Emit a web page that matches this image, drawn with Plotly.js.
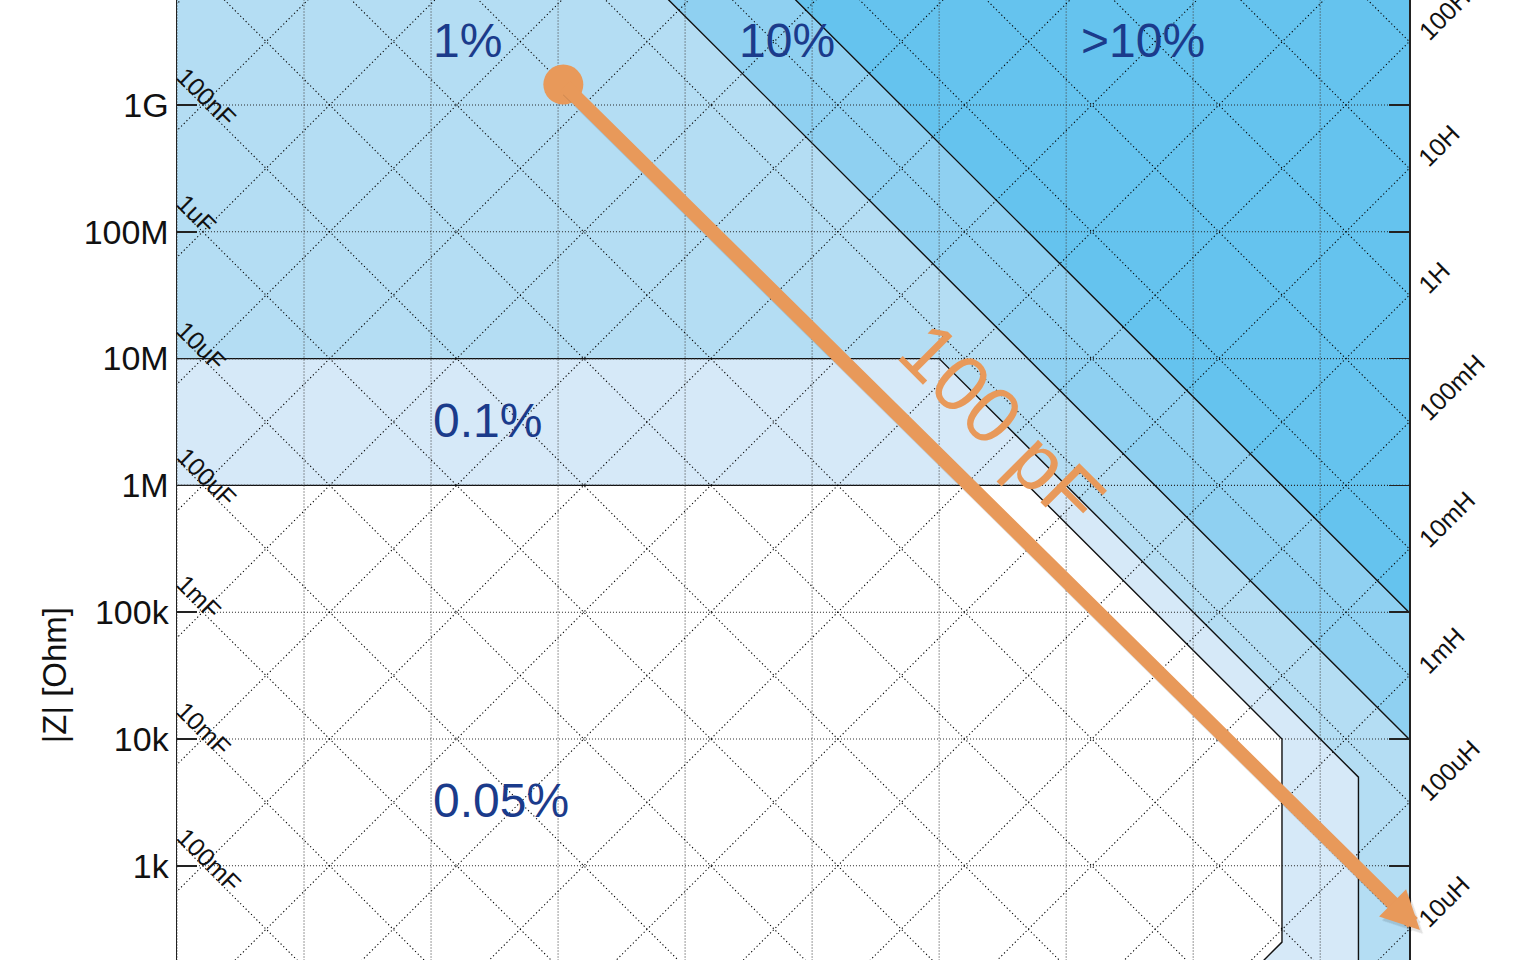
<!DOCTYPE html>
<html><head><meta charset="utf-8">
<script src="https://cdn.plot.ly/plotly-3.0.1.min.js"></script>
<style>html,body{margin:0;padding:0;background:#fff;overflow:hidden}#chart{width:1524px;height:960px}</style>
</head><body><div id="chart"></div>
<script>
// ---- axis extents and ticks (frequency in Hz, impedance in Ohm) ----
const freqMin = 1e-3;
const freqMax = 5e6;
const impMin = 180.7;
const impMax = 6.73e9;
const gridFreqs = [1e-3, 1e-2, 1e-1, 1, 10, 100, 1e3, 1e4, 1e5, 1e6];
const impTickVals = [1e3, 1e4, 1e5, 1e6, 1e7, 1e8, 1e9];
const impTickText = ['1k', '10k', '100k', '1M', '10M', '100M', '1G'];

// ---- constant-capacitance and constant-inductance reference lines ----
const capValues = [1, 1e-1, 1e-2, 1e-3, 1e-4, 1e-5, 1e-6, 1e-7, 1e-8, 1e-9, 1e-10, 1e-11, 1e-12, 1e-13, 1e-14, 1e-15, 1e-16, 1e-17];
const capLabelValues = [1e-1, 1e-2, 1e-3, 1e-4, 1e-5, 1e-6, 1e-7];
const capLabelText = ['100mF', '10mF', '1mF', '100uF', '10uF', '1uF', '100nF'];
const indValues = [1e-5, 1e-4, 1e-3, 1e-2, 1e-1, 1, 10, 100, 1e3, 1e4, 1e5, 1e6, 1e7, 1e8, 1e9, 1e10, 1e11, 1e12];
const indLabelValues = [1e-5, 1e-4, 1e-3, 1e-2, 1e-1, 1, 10, 100];
const indLabelText = ['10uH', '100uH', '1mH', '10mH', '100mH', '1H', '10H', '100H'];

// ---- accuracy region boundaries (polygons, Hz / Ohm) ----
const band10F = [1e-5, 5, 5e7, 5e7, 1e-5];
const band10Z = [1e11, 1e11, 1e4, 1, 1];
const band1F = [1e-5, 0.5, 5e7, 5e7, 1e-5];
const band1Z = [1e11, 1e11, 1e3, 1, 1];
const band01F = [1e-5, 1e3, 2e6, 2e6, 1e-5];
const band01Z = [1e7, 1e7, 5e3, 10, 10];
const band005F = [1e-5, 5e3, 5e5, 5e5, 5e4, 1e-5];
const band005Z = [1e6, 1e6, 1e4, 250, 25, 25];

// ---- region labels ----
const regionText = ['1%', '10%', '>10%', '0.1%', '0.05%'];
const regionF = [0.192, 63.4, 4.03e4, 0.276, 0.356];
const regionZ = [3.2e9, 3.2e9, 3.2e9, 3.22e6, 3.3e3];

// ---- 100 pF example arrow ----
const arrowF = [1.1, 6.1e6];
const arrowZ = [1.45e9, 312];
const arrowLabel = '100 pF';
const arrowLabelF = 3100;
const arrowLabelZ = 3.0e6;

const FONT = '"Liberation Sans", Arial, sans-serif';
const colors = {gt10: '#65c3ee', p10: '#8fd0f1', p1: '#b4ddf3', p01: '#d6e9f8', p005: '#ffffff', text: '#1b3b8b', orange: '#e8995a'};

const TWO_PI = 2 * Math.PI;
const lineF = [1e-5, 1e8];
function capLine(c) { return lineF.map(f => 1 / (TWO_PI * f * c)); }
function indLine(l) { return lineF.map(f => TWO_PI * f * l); }

function poly(fx, zy, fill) {
  return {x: fx.concat([fx[0]]), y: zy.concat([zy[0]]), type: 'scatter', mode: 'lines', fill: 'toself',
    fillcolor: fill, line: {color: '#111', width: 1.4}, hoverinfo: 'skip'};
}

const traces = [];
traces.push(poly(band10F, band10Z, colors.p10));
traces.push(poly(band1F, band1Z, colors.p1));
traces.push(poly(band01F, band01Z, colors.p01));
traces.push(poly(band005F, band005Z, colors.p005));

// vertical and horizontal dotted grid
let gx = [], gy = [];
gridFreqs.forEach(f => { gx.push(f, f, null); gy.push(10, 1e11, null); });
traces.push({x: gx, y: gy, type: 'scatter', mode: 'lines', line: {color: '#444', width: 1.1, dash: '1px,2px'}, hoverinfo: 'skip', connectgaps: false});
let hx = [], hy = [];
impTickVals.forEach(z => { hx.push(1e-5, 1e8, null); hy.push(z, z, null); });
traces.push({x: hx, y: hy, type: 'scatter', mode: 'lines', line: {color: '#222', width: 1.1, dash: '1px,2px'}, hoverinfo: 'skip', connectgaps: false});

// diagonal C / L lines
let dx = [], dy = [];
capValues.forEach(c => { const z = capLine(c); dx.push(lineF[0], lineF[1], null); dy.push(z[0], z[1], null); });
indValues.forEach(l => { const z = indLine(l); dx.push(lineF[0], lineF[1], null); dy.push(z[0], z[1], null); });
traces.push({x: dx, y: dy, type: 'scatter', mode: 'lines', line: {color: '#000', width: 1.1, dash: '1.2px,2.6px'}, hoverinfo: 'skip', connectgaps: false});

// arrow start dot
traces.push({x: [arrowF[0]], y: [arrowZ[0]], type: 'scatter', mode: 'markers', marker: {size: 40, color: colors.orange}, hoverinfo: 'skip', cliponaxis: false});

// text measure
const ctx = document.createElement('canvas').getContext('2d');
function textW(s, size) { ctx.font = size + 'px "Liberation Sans"'; return ctx.measureText(s).width; }
const S = Math.SQRT1_2;
const lg = Math.log10;

const annotations = [];
// region labels
regionText.forEach((t, i) => {
  annotations.push({x: lg(regionF[i]), y: lg(regionZ[i]), xref: 'x', yref: 'y', text: t, showarrow: false,
    font: {family: FONT, size: 48, color: colors.text}, xanchor: 'center', yanchor: 'middle'});
});
// capacitance labels at left edge
const labFs = 25;
const fLeft = freqMin * 1.0001;
capLabelValues.forEach((c, i) => {
  const w = textW(capLabelText[i], labFs);
  const a = w / 2 - 2, b = 8.5;
  annotations.push({x: lg(fLeft), y: lg(1 / (TWO_PI * fLeft * c)), xref: 'x', yref: 'y', text: capLabelText[i], showarrow: false,
    textangle: 45, font: {family: FONT, size: labFs, color: '#111'}, xanchor: 'center', yanchor: 'middle',
    xshift: S * (a + b), yshift: -S * (a - b)});
});
// inductance labels at right edge
const fRight = freqMax * 0.9999;
indLabelValues.forEach((l, i) => {
  const w = textW(indLabelText[i], labFs);
  const a = w / 2 + 15, b = 5;
  annotations.push({x: lg(fRight), y: lg(TWO_PI * fRight * l), xref: 'x', yref: 'y', text: indLabelText[i], showarrow: false,
    textangle: -45, font: {family: FONT, size: labFs, color: '#111'}, xanchor: 'center', yanchor: 'middle',
    xshift: S * (a + b), yshift: S * (a - b)});
});
// arrow shadow + arrow
annotations.push({x: lg(arrowF[1]), y: lg(arrowZ[1]), ax: lg(arrowF[0]), ay: lg(arrowZ[0]), xref: 'x', yref: 'y', axref: 'x', ayref: 'y',
  text: '', showarrow: true, arrowhead: 2, arrowsize: 0.55, arrowwidth: 14, arrowcolor: 'rgba(0,0,0,0.12)', xshift: 3, yshift: -4});
annotations.push({x: lg(arrowF[1]), y: lg(arrowZ[1]), ax: lg(arrowF[0]), ay: lg(arrowZ[0]), xref: 'x', yref: 'y', axref: 'x', ayref: 'y',
  text: '', showarrow: true, arrowhead: 2, arrowsize: 0.55, arrowwidth: 14, arrowcolor: colors.orange});
annotations.push({x: lg(arrowLabelF), y: lg(arrowLabelZ), xref: 'x', yref: 'y', text: arrowLabel, showarrow: false, textangle: 45,
  font: {family: FONT, size: 80, color: colors.orange}, xanchor: 'center', yanchor: 'middle'});
// y axis title
annotations.push({x: -0.0995, y: 0.297, xref: 'paper', yref: 'paper', text: '|Z| [Ohm]', showarrow: false, textangle: -90,
  font: {family: FONT, size: 33, color: '#111'}, xanchor: 'center', yanchor: 'middle'});

const layout = {
  width: 1524, height: 960, autosize: false,
  margin: {l: 177, r: 115, t: 0, b: 0, pad: 0},
  paper_bgcolor: '#ffffff', plot_bgcolor: colors.gt10,
  showlegend: false,
  xaxis: {type: 'log', range: [lg(freqMin), lg(freqMax)], showgrid: false, zeroline: false, showline: false, showticklabels: false, ticks: ''},
  yaxis: {type: 'log', range: [lg(impMin), lg(impMax)], showgrid: false, zeroline: false, showline: true, linecolor: '#222', linewidth: 1.5,
    mirror: 'ticks', ticks: 'inside', ticklen: 20, tickwidth: 1.5, tickcolor: '#222', tickvals: impTickVals, ticktext: impTickText,
    tickfont: {family: FONT, size: 34, color: '#111'}, ticklabelstandoff: 0},
  annotations: annotations
};
Plotly.newPlot('chart', traces, layout, {displayModeBar: false, staticPlot: true});
</script></body></html>
